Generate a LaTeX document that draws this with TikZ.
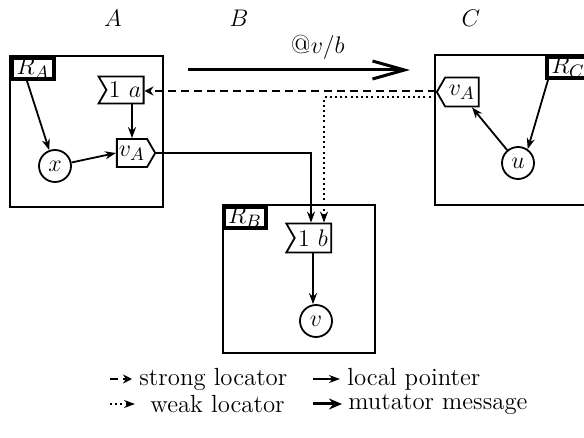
\documentclass[tikz,border=0pt]{standalone}
\usetikzlibrary{shapes.symbols,arrows.meta,calc}
\begin{document}
\begin{tikzpicture}[x=0.5pt,y=-0.5pt,
  frame/.style={draw,line width=1pt},
  rlab/.style={draw,line width=2pt,inner sep=0pt,minimum width=21pt,minimum height=10.5pt,font=\fontsize{12.5}{13}\selectfont},
  sig/.style={signal,draw,line width=0.9pt,signal pointer angle=120,inner sep=1pt,font=\fontsize{12.5}{13}\selectfont},
  obj/.style={circle,draw,line width=0.9pt,minimum size=16pt,inner sep=0pt,font=\fontsize{12.5}{13}\selectfont},
  lp/.style={line width=0.9pt,-{Stealth[length=5.5pt,width=4pt]}},
  strong/.style={line width=0.9pt,dash pattern=on 4pt off 2.5pt,-{Stealth[open,length=4.5pt,width=4.5pt]}},
  weak/.style={line width=1pt,dash pattern=on 1pt off 1.6pt,-{Stealth[length=5.5pt,width=4pt]}},
  mut/.style={line width=1.5pt,-{Straight Barb[length=16pt,width=9pt,line width=1.5pt]}},
  lab/.style={font=\fontsize{12}{13}\selectfont},
  leg/.style={anchor=west,inner sep=0pt,font=\fontsize{12.4}{13}\selectfont}]
\useasboundingbox (0,0) rectangle (584,438);
\clip (0,0) rectangle (584,438);

% column labels
\node[lab] (lA) at (113,18) {$A$};
\node[lab] (lB) at (239,18) {$B$};
\node[lab] (lC) at (471,18) {$C$};

% boxes
\draw[frame] (10,56) rectangle (163,207);
\draw[frame] (223,205) rectangle (375,353);
\draw[frame] (435,55) rectangle (620,205);

% site A
\node[rlab] (RA) at (33,68.5) {$R_A$};
\node[sig,signal to=nowhere,signal from=west,minimum width=22.5pt,minimum height=13.5pt] (na) at (125,90) {$1\ a$};
\node[sig,signal to=east,minimum width=18pt,minimum height=14pt] (vAA) at (132,153) {$v_A$};
\node[obj] (xx) at (55,166) {$x$};

% site B
\node[rlab] (RB) at (245,217.5) {$R_B$};
\node[sig,signal to=nowhere,signal from=west,minimum width=22.5pt,minimum height=14.5pt] (nb) at (313,238) {$1\ b$};
\node[obj] (vv) at (316,321) {$v$};

% site C
\node[rlab] (RC) at (568,67.5) {$R_C$};
\node[sig,signal to=west,minimum width=21pt,minimum height=14.5pt] (vAC) at (462,92) {$v_A$};
\node[obj] (uu) at (518,163) {$u$};

% local pointers
\draw[lp] ($(RA.south)+(-6,0)$) -- (xx.110);
\draw[lp] (xx.12) -- (vAA.west);
\draw[lp] (na.south -| vAA.north) -- (vAA.north);
\draw[lp] ($(RC.south west)+(3,0)$) -- (uu.55);
\draw[lp] (uu.130) -- ($(vAC.south)+(10,0)$);
\draw[lp] (nb.south) -- (nb.south |- vv.north);

% inter-site references
\draw[lp] (vAA.east) -| ($(nb.north)+(-2,0)$);
\draw[strong] ($(vAC.west)+(0,-1)$) -- (na.east |- {$(vAC.west)+(0,-1)$});
\draw[weak] ($(vAC.west)+(0,5)$) -| ($(nb.north)+(11,0)$);

% mutator message
\coordinate (m1) at (188,70);
\coordinate (m2) at (410,70);
\draw[mut] (m1) -- node[pos=0.585,above=1pt,font=\fontsize{13}{14}\selectfont] (mlab) {@$v/b$} (m2);

% legend
\coordinate (s1) at (110,379); \coordinate (s2) at (132,379);
\coordinate (w1) at (110,404); \coordinate (w2) at (135,404);
\coordinate (p1) at (313,379); \coordinate (p2) at (340,379);
\coordinate (q1) at (313,404); \coordinate (q2) at (342,404);
\draw[strong] (s1) -- (s2);
\draw[weak] (w1) -- (w2);
\draw[lp] (p1) -- (p2);
\draw[line width=1.5pt,-{Stealth[length=6.5pt,width=5.5pt]}] (q1) -- (q2);
\node[leg] (ts) at (139,379) {strong locator};
\node[leg] (tw) at (150,404) {weak locator};
\node[leg] (tp) at (347,379) {local pointer};
\node[leg] (tq) at (348,404) {mutator message};
\end{tikzpicture}
\end{document}
